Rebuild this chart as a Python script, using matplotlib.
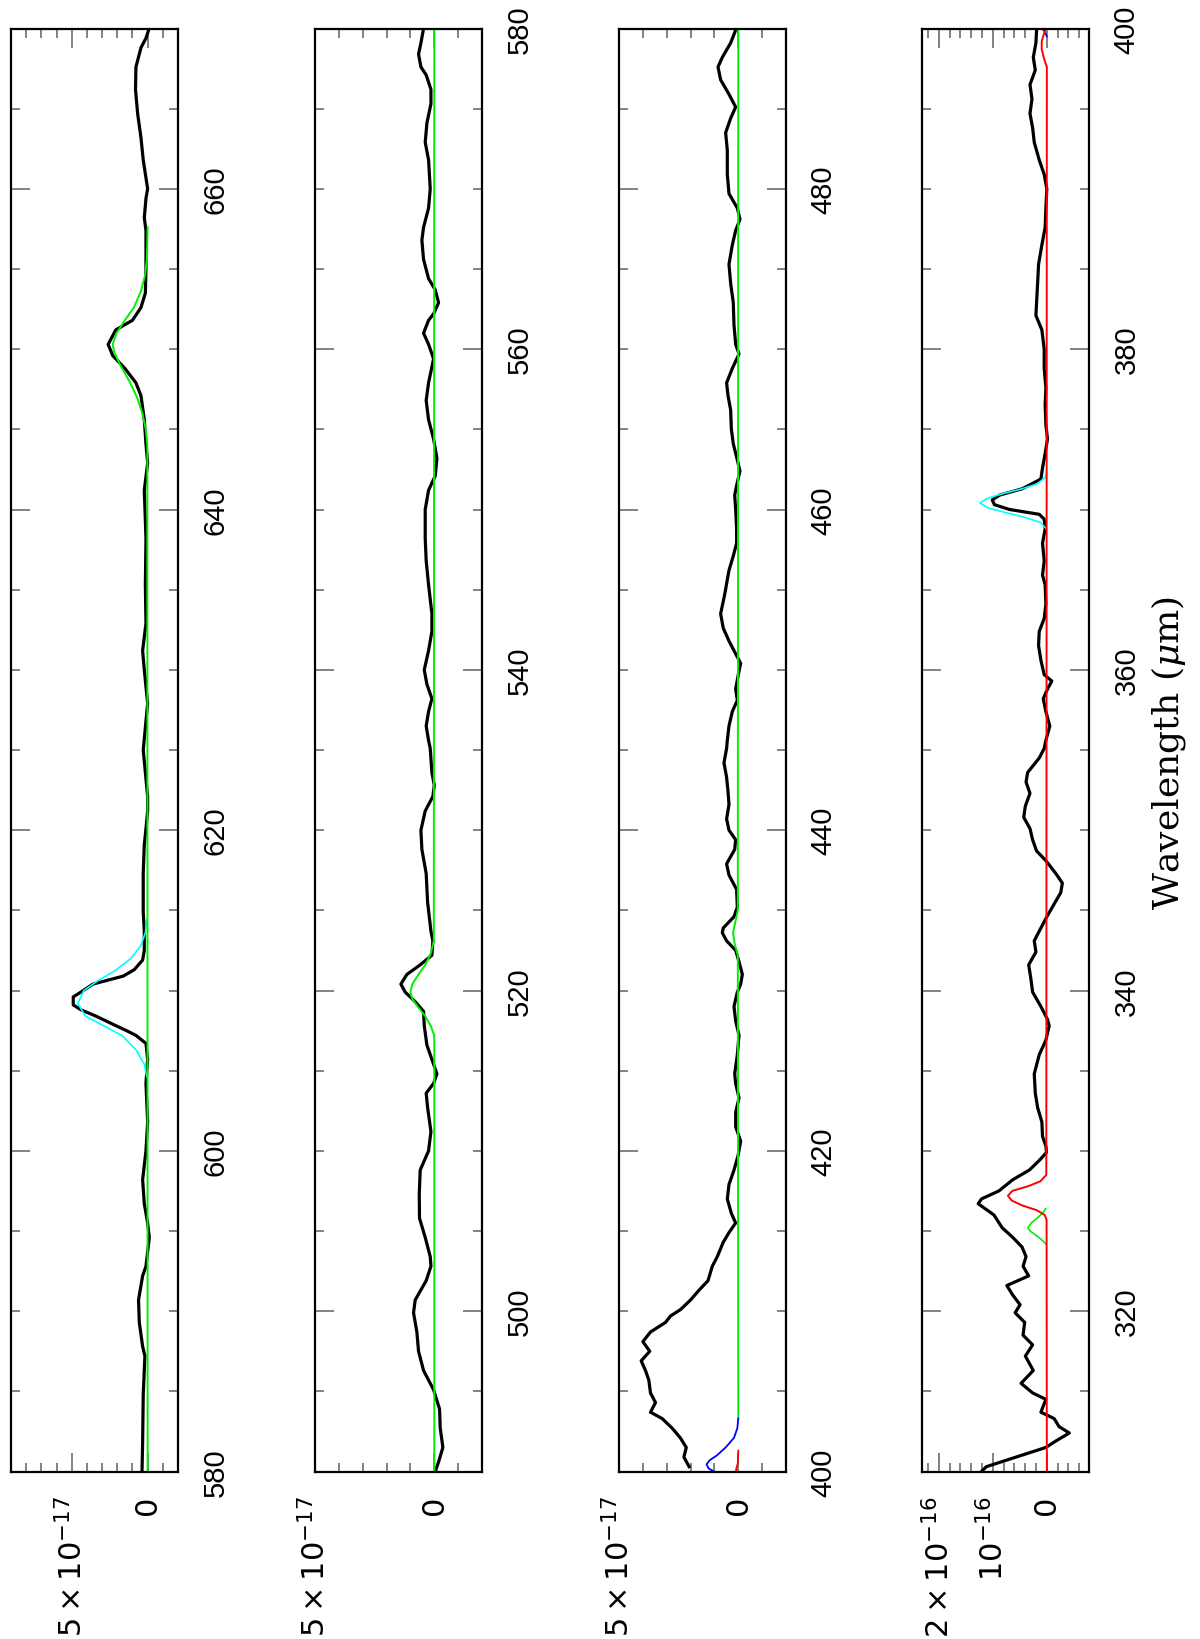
import matplotlib
matplotlib.use("Agg")
import matplotlib.pyplot as plt
from matplotlib.ticker import FixedLocator, MultipleLocator

UNIT = 1e-17

# ---- panel 1 : 580 - 670 um ----
wave_1 = [580.0, 581.8, 584.8, 587.2, 587.8, 589.3, 590.7, 592.2, 592.8, 594.6,
          595.5, 596.7, 598.2, 600.0, 601.8, 604.2, 605.7, 606.7, 607.2, 607.5,
          607.9, 608.4, 608.8, 609.1, 609.6, 609.9, 610.4, 610.9, 611.3, 611.9,
          612.5, 613.7, 614.9, 617.3, 619.1, 620.1, 621.2, 622.1, 623.6, 625.0,
          627.9, 630.0, 631.2, 632.9, 635.3, 638.2, 641.2, 642.9, 644.1, 645.6,
          647.1, 647.9, 648.8, 649.6, 650.3, 651.2, 651.8, 652.6, 653.5, 655.0,
          657.4, 658.2, 659.4, 660.0, 661.8, 663.2, 664.7, 666.2, 667.6, 668.8,
          669.4, 670.0]
flux_1 = [0.37, 0.33, 0.29, 0.18, 0.33, 0.55, 0.60, 0.33, 0.11, -0.11,
          0.0, 0.22, 0.33, 0.11, 0.0, 0.11, 0.0, 0.11, 0.77, 1.4,
          2.3, 3.4, 4.4, 4.9, 4.9, 4.4, 3.6, 1.6, 0.88, 0.33,
          0.22, 0.22, 0.29, 0.29, 0.22, 0.11, 0.0, 0.0, 0.15, 0.29,
          0.0, 0.22, 0.33, 0.11, 0.15, 0.11, 0.22, 0.0, 0.11, 0.22,
          0.44, 0.77, 1.5, 2.3, 2.6, 2.1, 1.0, 0.44, 0.15, 0.11,
          0.11, 0.22, 0.11, 0.0, 0.29, 0.44, 0.66, 0.80, 0.77, 0.44,
          0.11, -0.10]
cyan_wave_1 = [604.6, 605.4, 606.3, 607.2, 607.8, 608.4, 609.2, 610.0, 610.6,
               611.2, 612.0, 612.8, 613.6, 614.4]
cyan_flux_1 = [0.05, 0.22, 0.77, 1.7, 2.9, 4.1, 4.6, 4.2, 3.3,
               2.2, 1.1, 0.45, 0.15, 0.05]
green_wave_1 = [580.0, 644.0, 645.0, 646.0, 647.0, 648.0, 649.0, 649.8, 650.3,
                651.0, 651.8, 652.6, 653.6, 654.6, 655.6, 657.6]
green_flux_1 = [0.0, 0.02, 0.12, 0.35, 0.7, 1.2, 1.8, 2.2, 2.3,
                2.05, 1.5, 0.9, 0.45, 0.17, 0.05, 0.0]

# ---- panel 2 : 490 - 580 um ----
wave_2 = [490.0, 490.6, 491.5, 492.7, 493.9, 495.1, 496.3, 497.5, 498.7, 499.9,
          500.7, 501.9, 502.8, 503.4, 504.6, 505.8, 507.3, 508.8, 510.0, 511.2,
          512.7, 513.6, 514.2, 514.8, 515.7, 516.6, 517.8, 518.7, 519.3, 519.9,
          520.4, 521.0, 521.6, 522.2, 523.1, 523.7, 525.5, 527.3, 528.8, 530.0,
          531.2, 532.1, 532.8, 533.6, 535.1, 535.6, 536.5, 537.4, 538.2, 539.1,
          540.0, 541.2, 542.4, 543.5, 545.3, 546.8, 548.2, 550.0, 551.2, 552.1,
          553.2, 554.4, 555.6, 556.8, 557.9, 559.4, 560.3, 561.0, 561.8, 562.2,
          562.9, 563.7, 564.4, 565.6, 566.8, 567.6, 568.8, 570.0, 571.8, 572.9,
          574.1, 575.3, 576.2, 577.1, 577.6, 578.4, 579.1, 580.0]
flux_2 = [-0.04, -0.18, -0.36, -0.25, -0.22, 0.03, 0.45, 0.66, 0.73, 0.87,
          0.80, 0.34, 0.14, 0.17, 0.38, 0.62, 0.63, 0.59, 0.24, 0.14,
          0.28, 0.34, 0.03, -0.11, 0.10, 0.31, 0.42, 0.45, 0.80, 1.22,
          1.40, 1.15, 0.59, 0.10, 0.06, 0.14, 0.28, 0.34, 0.52, 0.56,
          0.38, 0.06, 0.0, 0.10, 0.17, 0.24, 0.34, 0.24, 0.10, 0.31,
          0.42, 0.24, 0.10, 0.10, 0.24, 0.34, 0.38, 0.38, 0.24, -0.04,
          -0.11, 0.03, 0.24, 0.34, 0.24, 0.03, 0.24, 0.45, 0.24, 0.03,
          -0.18, -0.04, 0.24, 0.45, 0.52, 0.45, 0.24, 0.17, 0.24, 0.38,
          0.31, 0.14, 0.14, 0.34, 0.56, 0.66, 0.56, 0.45]
green_wave_2 = [490.0, 517.2, 517.8, 518.4, 519.0, 519.5, 519.9, 520.4, 521.0,
                521.6, 522.3, 523.1, 580.0]
green_flux_2 = [0.0, 0.0, 0.15, 0.38, 0.70, 0.93, 1.0, 0.92, 0.66,
                0.38, 0.15, 0.02, 0.0]

# ---- panel 3 : 400 - 490 um ----
wave_3 = [400.3, 400.9, 401.5, 402.1, 402.7, 403.3, 403.7, 404.3, 404.9, 405.7,
          406.3, 406.9, 407.5, 408.1, 408.7, 409.3, 409.7, 410.1, 410.7, 411.3,
          411.9, 412.8, 413.4, 414.3, 414.9, 415.5, 416.1, 417.0, 417.9, 418.8,
          419.7, 420.6, 421.5, 422.4, 423.3, 424.2, 424.8, 426.0, 427.2, 428.1,
          429.0, 429.9, 430.4, 431.0, 431.8, 432.5, 433.1, 433.6, 433.9, 434.6,
          435.2, 436.3, 437.2, 437.9, 438.8, 439.4, 440.0, 440.7, 441.6, 442.4,
          443.3, 444.2, 445.1, 445.6, 446.5, 447.4, 448.1, 448.8, 449.7, 450.4,
          451.0, 451.8, 452.6, 453.5, 454.7, 456.2, 457.1, 457.9, 458.8, 460.0,
          460.9, 461.5, 462.4, 462.9, 464.1, 465.0, 466.2, 467.1, 467.9, 468.8,
          469.7, 470.3, 471.5, 472.9, 474.1, 475.3, 476.5, 477.4, 478.1, 478.8,
          479.7, 480.9, 482.4, 483.5, 484.4, 485.1, 485.9, 486.8, 487.6, 488.2,
          489.1, 489.9]
flux_3 = [2.06, 2.28, 2.18, 2.43, 2.77, 3.19, 3.68, 3.47, 3.68, 3.75,
          3.89, 4.07, 3.71, 4.00, 3.68, 3.05, 2.84, 2.42, 2.00, 1.65,
          1.27, 1.09, 0.88, 0.63, 0.39, 0.11, 0.29, 0.46, 0.39, 0.18,
          0.01, -0.10, 0.11, 0.11, -0.03, 0.11, 0.15, 0.04, -0.03, 0.11,
          0.18, 0.04, -0.10, -0.17, -0.03, 0.11, 0.49, 0.67, 0.63, 0.18,
          0.04, 0.07, 0.39, 0.49, 0.15, 0.11, 0.39, 0.49, 0.39, 0.43,
          0.49, 0.60, 0.49, 0.46, 0.39, 0.25, 0.04, 0.11, 0.0, -0.10,
          0.11, 0.39, 0.63, 0.74, 0.57, 0.39, 0.21, 0.07, 0.07, 0.11,
          0.15, 0.07, -0.07, 0.01, 0.21, 0.29, 0.32, 0.43, 0.49, 0.25,
          -0.03, 0.11, 0.18, 0.21, 0.32, 0.39, 0.25, 0.11, -0.07, 0.04,
          0.39, 0.46, 0.46, 0.53, 0.32, 0.11, 0.39, 0.74, 0.85, 0.67,
          0.32, 0.11]
green_wave_3 = [403.3, 432.2, 432.9, 433.6, 434.3, 435.0, 490.0]
green_flux_3 = [0.0, 0.02, 0.15, 0.22, 0.12, 0.02, 0.0]
blue_wave_3 = [400.0, 400.2, 400.45, 400.7, 401.0, 401.5, 402.1, 402.7, 403.3]
blue_flux_3 = [1.02, 1.25, 1.33, 1.20, 0.90, 0.53, 0.18, 0.04, 0.0]
red_wave_3 = [400.0, 400.2, 400.5, 401.3]
red_flux_3 = [0.10, 0.08, 0.02, 0.0]

# ---- panel 4 : 310 - 400 um ----
wave_4 = [310.0, 310.3, 310.9, 311.5, 311.9, 312.4, 312.8, 313.3, 313.7, 314.5,
          314.9, 315.5, 316.3, 317.2, 317.9, 318.5, 319.3, 319.9, 320.4, 321.0,
          321.6, 322.2, 322.8, 323.4, 324.0, 324.6, 325.2, 326.0, 326.7, 327.0,
          327.5, 328.2, 328.8, 329.4, 329.9, 330.3, 330.9, 331.8, 332.7, 333.6,
          334.8, 336.0, 336.9, 337.8, 338.2, 339.0, 339.9, 340.7, 341.6, 342.4,
          343.1, 343.9, 344.6, 345.5, 346.1, 346.7, 347.3, 348.1, 348.7, 349.4,
          350.1, 350.8, 351.5, 352.3, 353.0, 353.6, 354.5, 355.1, 355.6, 356.5,
          357.4, 358.2, 358.8, 359.3, 359.7, 360.6, 361.5, 362.4, 363.2, 364.1,
          365.3, 365.9, 366.8, 367.9, 368.8, 369.4, 369.7, 370.0, 370.3, 370.6,
          370.9, 371.3, 371.9, 372.6, 373.5, 374.4, 375.3, 376.5, 377.6, 378.8,
          380.0, 381.2, 382.1, 382.9, 384.1, 385.3, 386.5, 387.6, 388.8, 390.0,
          390.9, 391.8, 392.9, 393.8, 394.7, 395.6, 396.5, 397.4, 398.2, 399.1,
          399.9]
flux_4 = [12.1, 11.2, 5.69, 0.18, -1.65, -4.16, -2.26, -1.35, 1.10, 0.18,
          2.63, 4.77, 2.51, 3.98, 2.63, 4.40, 4.10, 5.87, 4.95, 6.30,
          7.40, 3.36, 4.40, 3.85, 4.59, 6.30, 8.26, 9.79, 12.7, 12.1,
          8.87, 6.30, 3.24, 1.40, 0.06, 0.18, 0.80, 0.92, 1.71, 2.14,
          2.33, 1.40, 0.18, -0.43, -0.12, 1.10, 2.63, 2.94, 3.36, 2.02,
          2.33, 1.10, 0.0, -1.53, -2.57, -2.87, -1.65, 0.18, 1.90, 2.63,
          3.12, 4.28, 3.98, 3.12, 3.85, 3.55, 1.41, 0.49, 0.18, -0.55,
          0.18, 0.67, -0.12, -0.92, 0.49, 1.10, 1.53, 1.41, 0.49, 0.18,
          0.31, 0.80, 0.49, 0.80, 0.31, 0.49, 1.41, 6.90, 9.70, 10.1,
          8.70, 4.50, 1.10, 0.80, 0.31, -0.12, 0.18, 0.31, 0.18, 0.49,
          0.49, 0.92, 2.02, 1.90, 1.71, 1.53, 0.92, 0.31, 0.18, 0.0,
          0.49, 1.41, 2.33, 2.63, 3.12, 2.75, 3.12, 2.14, 2.51, 2.02,
          1.90]
cyan_wave_4 = [368.8, 369.2, 369.5, 369.8, 370.1, 370.4, 370.7, 371.0, 371.3,
               371.6, 372.0, 372.2]
cyan_flux_4 = [0.1, 1.2, 4.0, 7.5, 10.9, 12.4, 11.0, 8.0, 4.5,
               1.8, 0.3, 0.1]
red_wave_4 = [310.0, 325.7, 326.0, 326.3, 326.6, 326.9, 327.2, 327.5, 327.8,
              328.1, 328.5, 397.6, 398.1, 398.7, 399.2, 399.6, 400.0]
red_flux_4 = [0.0, 0.05, 0.4, 1.9, 4.6, 6.5, 7.2, 6.4, 3.4,
              1.2, 0.1, 0.0, 0.5, 0.95, 0.95, 0.6, 0.2]
green_wave_4 = [324.2, 324.5, 324.8, 325.0, 325.2, 325.5, 325.8, 326.1, 326.4]
green_flux_4 = [0.2, 1.1, 2.3, 3.1, 3.5, 2.9, 1.8, 0.8, 0.2]
blue_wave_4 = [399.5, 399.8, 400.0]
blue_flux_4 = [0.0, 0.4, 0.9]

# wavelength ranges, labelled ticks and flux axis per panel
wave_lims = [(580, 670), (490, 580), (400, 490), (310, 400)]
wave_ticks = [[580, 600, 620, 640, 660], [500, 520, 540, 560, 580],
              [400, 420, 440, 460, 480], [320, 340, 360, 380, 400]]
flux_lims = [(9.0, -2.0), (5.0, -2.0), (5.0, -2.0), (23.1, -7.8)]
flux_major = [[0, 5], [0, 5], [0, 5], [0, 10, 20]]
flux_labels = [["0", r"$5\times10^{-17}$"], ["0", r"$5\times10^{-17}$"],
               ["0", r"$5\times10^{-17}$"], ["0", r"$10^{-16}$", r"$2\times10^{-16}$"]]
flux_minor_step = [1, 1, 1, 2]

panel_left = [11, 315, 619, 922]


def scaled(values):
    return [v * UNIT for v in values]


def setup_panel(ax, i):
    ax.set_ylim(wave_lims[i])
    ax.set_xlim(flux_lims[i][0] * UNIT, flux_lims[i][1] * UNIT)

    ax.yaxis.set_major_locator(FixedLocator(wave_ticks[i]))
    ax.yaxis.set_minor_locator(MultipleLocator(5))
    ax.set_yticklabels([str(w) for w in wave_ticks[i]], rotation=90,
                       va="center", fontfamily="Liberation Sans", fontsize=21)

    ax.xaxis.set_major_locator(FixedLocator(scaled(flux_major[i])))
    ax.xaxis.set_minor_locator(MultipleLocator(flux_minor_step[i] * UNIT))
    ax.set_xticklabels(flux_labels[i], rotation=90, fontsize=22)

    ax.tick_params(axis="both", which="both", direction="in", color="#606060",
                   width=1.1, top=True, bottom=True, left=True, right=True,
                   labelleft=False, labelright=True, labeltop=False,
                   labelbottom=True)
    ax.tick_params(axis="both", which="major", length=13.5, pad=17)
    ax.tick_params(axis="both", which="minor", length=6.5)
    for sp in ax.spines.values():
        sp.set_linewidth(1.6)


fig = plt.figure(figsize=(12, 16.4), dpi=100)
axes = []
for i in range(4):
    ax = fig.add_axes([panel_left[i] / 1200, 1 - 1472.5 / 1640, 167 / 1200, 1443 / 1640])
    setup_panel(ax, i)
    axes.append(ax)

ax1, ax2, ax3, ax4 = axes

ax1.plot(scaled(flux_1), wave_1, color="black", lw=2.3)
ax1.plot(scaled(cyan_flux_1), cyan_wave_1, color="#00ffff", lw=1.2)
ax1.plot(scaled(green_flux_1), green_wave_1, color="#00f000", lw=1.4)

ax2.plot(scaled(flux_2), wave_2, color="black", lw=2.3)
ax2.plot(scaled(green_flux_2), green_wave_2, color="#00f000", lw=1.4)

ax3.plot(scaled(flux_3), wave_3, color="black", lw=2.3)
ax3.plot(scaled(green_flux_3), green_wave_3, color="#00f000", lw=1.4)
ax3.plot(scaled(blue_flux_3), blue_wave_3, color="#0000ff", lw=1.3)
ax3.plot(scaled(red_flux_3), red_wave_3, color="#ff0000", lw=1.3)

ax4.plot(scaled(flux_4), wave_4, color="black", lw=2.3)
ax4.plot(scaled(cyan_flux_4), cyan_wave_4, color="#00ffff", lw=1.2)
ax4.plot(scaled(green_flux_4), green_wave_4, color="#00f000", lw=1.2)
ax4.plot(scaled(blue_flux_4), blue_wave_4, color="#0000ff", lw=1.2)
ax4.plot(scaled(red_flux_4), red_wave_4, color="#ff0000", lw=1.4)

fig.text(1169 / 1200, 1 - 753 / 1640, r"Wavelength ($\mu$m)", rotation=90,
         ha="center", va="center", fontfamily="DejaVu Serif", fontsize=26,
         math_fontfamily="dejavuserif")

fig.savefig("out.png", dpi=100)
